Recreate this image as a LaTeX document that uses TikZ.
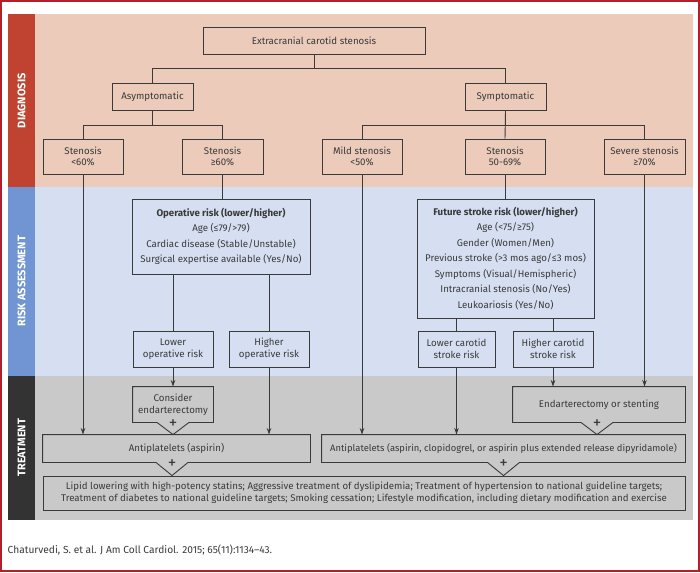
\documentclass[tikz,border=0pt]{standalone}
\usepackage{fontspec}
\setmainfont{Fira Sans}
\usetikzlibrary{arrows.meta,calc}

\definecolor{framered}{HTML}{B3202A}
\definecolor{diagbg}{HTML}{ECCBBB}
\definecolor{diaglab}{HTML}{BF4330}
\definecolor{riskbg}{HTML}{D6DFF1}
\definecolor{risklab}{HTML}{7095D2}
\definecolor{treatbg}{HTML}{C9C9C9}
\definecolor{treatlab}{HTML}{333333}
\definecolor{ink}{HTML}{3A3A3A}

\tikzset{
  box/.style={draw=ink, line width=0.9pt, align=center, text=ink, inner sep=2pt,
    font=\fontsize{9.7pt}{11.7pt}\selectfont},
  riskbox/.style={box, font=\fontsize{9.7pt}{15.5pt}\selectfont},
  notched/.style={box, draw=none},
  boxline/.style={draw=ink, line width=0.9pt, line join=miter},
  link/.style={draw=ink, line width=0.9pt},
  arr/.style={link, -{Stealth[length=6.5pt,width=4.5pt]}},
  bandlab/.style={rotate=90, text=white, font=\fontsize{11pt}{12pt}\selectfont\bfseries,
    minimum height=27pt, inner sep=0pt},
  plussign/.style={text=ink, inner sep=0pt, font=\fontsize{17pt}{17pt}\selectfont},
}

\begin{document}
\begin{tikzpicture}[x=1pt, y=-1pt]
  \useasboundingbox (0,0) rectangle (700,572);
  \draw[framered, line width=2.2pt] (1.1,1.1) rectangle (698.9,570.9);

  % bands
  \fill[diagbg] (35,14.5) rectangle (692.5,187);
  \fill[riskbg] (35,187) rectangle (692.5,375.5);
  \fill[treatbg] (35,375.5) rectangle (692.5,520);
  \node[bandlab, fill=diaglab, minimum width=172.5pt] (diaglabel) at (21.5,100.75) {DIAGNOSIS};
  \node[bandlab, fill=risklab, minimum width=188.5pt] (risklabel) at (21.5,281.25) {RISK ASSESSMENT};
  \node[bandlab, fill=treatlab, minimum width=144.5pt] (treatlabel) at (21.5,447.75) {TREATMENT};

  % diagnosis
  \node[box, minimum width=222pt, minimum height=27pt] (ext) at (314,40.5) {Extracranial carotid stenosis};
  \node[box, minimum width=81pt, minimum height=27pt] (asym) at (152.5,96.5) {Asymptomatic};
  \node[box, minimum width=81pt, minimum height=27pt] (symp) at (505.5,96.5) {Symptomatic};
  \node[box, minimum width=80pt, minimum height=35pt] (st60) at (83,156.5) {Stenosis\\<60\%};
  \node[box, minimum width=81pt, minimum height=35pt] (st60up) at (222.5,156.5) {Stenosis\\≥60\%};
  \node[box, minimum width=80pt, minimum height=35pt] (mild) at (362,156.5) {Mild stenosis\\<50\%};
  \node[box, minimum width=80pt, minimum height=35pt] (st5069) at (505,156.5) {Stenosis\\50-69\%};
  \node[box, minimum width=81pt, minimum height=35pt] (severe) at (644.5,156.5) {Severe stenosis\\≥70\%};

  % risk assessment
  \node[riskbox, minimum width=178pt, minimum height=75pt] (oprisk) at (221,236.5)
    {\textbf{Operative risk (lower/higher)}\\Age (≤79/>79)\\Cardiac disease (Stable/Unstable)\\Surgical expertise available (Yes/No)};
  \node[riskbox, minimum width=177pt, minimum height=119pt] (futrisk) at (505.5,258.5)
    {\textbf{Future stroke risk (lower/higher)}\\Age (<75/≥75)\\Gender (Women/Men)\\Previous stroke (>3 mos ago/≤3 mos)\\Symptoms (Visual/Hemispheric)\\Intracranial stenosis (No/Yes)\\Leukoariosis (Yes/No)};
  \node[box, minimum width=80pt, minimum height=36pt] (lowop) at (173,349) {Lower\\operative risk};
  \node[box, minimum width=80pt, minimum height=36pt] (highop) at (269,349) {Higher\\operative risk};
  \node[box, minimum width=77pt, minimum height=36pt] (lowcar) at (456.5,349) {Lower carotid\\stroke risk};
  \node[box, minimum width=80pt, minimum height=36pt] (highcar) at (553,349) {Higher carotid\\stroke risk};

  % treatment
  \node[notched, minimum width=80pt, minimum height=35pt] (endart) at (173,404.5) {Consider\\endarterectomy};
  \node[notched, minimum width=172pt, minimum height=35pt] (endstent) at (599,404.5) {Endarterectomy or stenting};
  \node[notched, minimum width=267pt, minimum height=27pt] (antiL) at (176.5,448.5) {Antiplatelets (aspirin)};
  \node[notched, minimum width=363pt, minimum height=27pt, font=\fontsize{9.4pt}{11.7pt}\selectfont] (antiR) at (503.5,448.5)
    {Antiplatelets (aspirin, clopidogrel, or aspirin plus extended release dipyridamole)};
  \node[box, minimum width=642pt, minimum height=34pt] (life) at (364,493)
    {Lipid lowering with high-potency statins; Aggressive treatment of dyslipidemia; Treatment of hypertension to national guideline targets;\\
     Treatment of diabetes to national guideline targets; Smoking cessation; Lifestyle modification, including dietary modification and exercise};

  \foreach \n/\m/\dx in {endart/antiL/0, endstent/antiR/-2, antiL/life/-4.5, antiR/life/0} {
    \draw[boxline] (\n.north west) -- (\n.north east) -- (\n.south east)
      -- ($(\n.south)+(\dx+16,0)$) -- ($(\n.south |- \m.north)+(\dx,0)$)
      -- ($(\n.south)+(\dx-16,0)$) -- (\n.south west) -- cycle;
    \node[plussign] (plus-\n) at ($(\n.south)+(\dx,2)$) {+};
  }

  % tree
  \draw[link] (ext.south) -- ++(0,14) -| (asym.north);
  \draw[link] (ext.south) -- ++(0,14) -| (symp.north);
  \draw[link] (asym.south) -- ++(0,15) -| (st60.north);
  \draw[link] (asym.south) -- ++(0,15) -| (st60up.north);
  \draw[link] (symp.south) -- ++(0,15) -| (mild.north);
  \draw[link] (symp.south) -- ++(0,15) -| (severe.north);
  \draw[link] (symp.south) -- (st5069.north);
  \draw[link] (st60up.south) -- (st60up.south |- oprisk.north);
  \draw[link] (st5069.south) -- (st5069.south |- futrisk.north);
  \foreach \k in {lowop, highop}
    \draw[link] (\k.north |- oprisk.south) -- (\k.north);
  \foreach \k in {lowcar, highcar}
    \draw[link] (\k.north |- futrisk.south) -- (\k.north);

  % arrows into treatment
  \draw[arr] (st60.south) -- (st60.south |- antiL.north);
  \draw[arr] (lowop.south) -- (lowop.south |- endart.north);
  \draw[arr] (highop.south) -- (highop.south |- antiL.north);
  \draw[arr] (mild.south) -- (mild.south |- antiR.north);
  \draw[arr] (lowcar.south) -- (lowcar.south |- antiR.north);
  \draw[arr] (highcar.south) -- (highcar.south |- endstent.north);
  \draw[arr] (severe.south) -- (severe.south |- endstent.north);

  \node[anchor=west, text=ink, inner sep=0pt, font=\fontsize{10.2pt}{12pt}\selectfont] (source) at (7.5,550)
    {Chaturvedi, S. et al. J Am Coll Cardiol. 2015; 65(11):1134–43.};
\end{tikzpicture}
\end{document}
